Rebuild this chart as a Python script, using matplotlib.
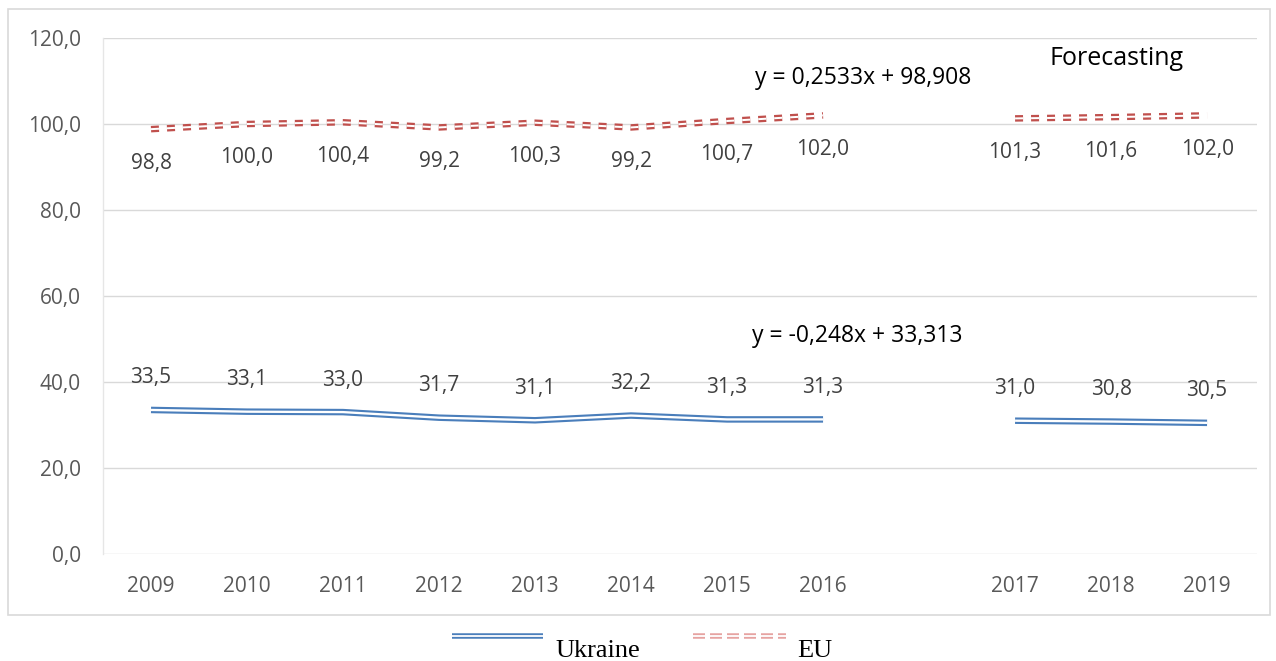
import matplotlib
matplotlib.use("Agg")
import matplotlib.pyplot as plt
from matplotlib.lines import Line2D
from matplotlib.patches import Rectangle

plt.rcParams['lines.scale_dashes'] = False
plt.rcParams['font.family'] = ['Open Sans', 'DejaVu Sans']

# ---- data ----
years_hist = [2009, 2010, 2011, 2012, 2013, 2014, 2015, 2016]
years_fc = [2017, 2018, 2019]
ukraine_hist = [33.5, 33.1, 33.0, 31.7, 31.1, 32.2, 31.3, 31.3]
eu_hist = [98.8, 100.0, 100.4, 99.2, 100.3, 99.2, 100.7, 102.0]
ukraine_fc = [31.0, 30.8, 30.5]
eu_fc = [101.3, 101.6, 102.0]
tick_labels = [str(y) for y in years_hist + years_fc]
eq_eu = "y = 0,2533x + 98,908"
eq_ua = "y = -0,248x + 33,313"
yticks = [0, 20, 40, 60, 80, 100, 120]

# category slots (index 8 is an empty slot between history and forecast)
x_hist = list(range(len(years_hist)))
x_fc = [9, 10, 11]
tick_pos = x_hist + x_fc

BLUE = '#4A7EBB'
RED = '#C0504D'
PINK = '#E6A3A1'
LBL = '#404040'
TCK = '#595959'
GRID = '#D9D9D9'
FS = 15

W, H = 1276, 661
fig = plt.figure(figsize=(W / 100, H / 100), dpi=100)
px = 72 / 100  # points per pixel

# outer chart frame
fig.patches.append(Rectangle((8 / W, 1 - 615 / H), (1270 - 8) / W, (615 - 9) / H,
                             transform=fig.transFigure, fill=False,
                             edgecolor='#D9D9D9', linewidth=1.2))

ax = fig.add_axes([103 / W, 1 - 554 / H, (1257 - 103) / W, (554 - 38) / H])
ax.set_xlim(-0.5, 11.52)
ax.set_ylim(0, 120)
for name, s in ax.spines.items():
    s.set_visible(name == 'left')
ax.spines['left'].set_color('#E6E6E6')
ax.spines['left'].set_linewidth(1.0)
ax.set_yticks(yticks)
ax.set_yticklabels([f"{v:.1f}".replace('.', ',') for v in yticks])
ax.grid(axis='y', color=GRID, linewidth=1.0)
ax.set_axisbelow(True)
ax.set_xticks(tick_pos)
ax.set_xticklabels(tick_labels)
ax.tick_params(axis='both', length=0, labelsize=FS, labelcolor=TCK)
ax.tick_params(axis='y', pad=16)
ax.tick_params(axis='x', pad=16)


def double_solid(x, y, color, outer, inner):
    ax.plot(x, y, color=color, lw=outer * px, solid_capstyle='butt', zorder=3)
    ax.plot(x, y, color='white', lw=inner * px, solid_capstyle='butt', zorder=4)


def double_dash(x, y, color, outer, inner):
    d = (8 * px, 8 * px)
    ax.plot(x, y, color=color, lw=outer * px, dashes=d, dash_capstyle='butt', zorder=3)
    ax.plot(x, y, color='white', lw=inner * px, dashes=d, dash_capstyle='butt', zorder=4)


for xs, ys in [(x_hist, ukraine_hist), (x_fc, ukraine_fc)]:
    double_solid(xs, ys, BLUE, 6.5, 2.3)
for xs, ys in [(x_hist, eu_hist), (x_fc, eu_fc)]:
    double_dash(xs, ys, RED, 6.5, 2.0)


def fmt(v):
    return f"{v:.1f}".replace('.', ',')


for xs, ys in [(x_hist, eu_hist), (x_fc, eu_fc)]:
    for xv, yv in zip(xs, ys):
        ax.annotate(fmt(yv), (xv, yv), xytext=(0, -34 * px), textcoords='offset points',
                    ha='center', va='center', fontsize=FS, color=LBL)
for xs, ys in [(x_hist, ukraine_hist), (x_fc, ukraine_fc)]:
    for xv, yv in zip(xs, ys):
        ax.annotate(fmt(yv), (xv, yv), xytext=(0, 32 * px), textcoords='offset points',
                    ha='center', va='center', fontsize=FS, color=LBL)

ax.text(6.29, 110.7, eq_eu, ha='left', va='center', fontsize=16.5, color='black')
ax.text(6.26, 50.7, eq_ua, ha='left', va='center', fontsize=16.5, color='black')
ax.text(9.36, 115.3, "Forecasting", ha='left', va='center', fontsize=18, color='black')

# legend (below the chart frame)
def fx(p):
    return p / W


def fy(p):
    return 1 - p / H


y_h = fy(636)
for (x0, x1), kind in [((452, 543), 'ua'), ((693, 786), 'eu')]:
    if kind == 'ua':
        fig.add_artist(Line2D([fx(x0), fx(x1)], [y_h, y_h], color=BLUE, lw=5.5 * px,
                              solid_capstyle='butt'))
        fig.add_artist(Line2D([fx(x0), fx(x1)], [y_h, y_h], color='white', lw=1.8 * px,
                              solid_capstyle='butt'))
    else:
        d = (12 * px, 5 * px)
        fig.add_artist(Line2D([fx(x0), fx(x1)], [y_h, y_h], color=PINK, lw=5.5 * px,
                              dashes=d, dash_capstyle='butt'))
        fig.add_artist(Line2D([fx(x0), fx(x1)], [y_h, y_h], color='white', lw=1.8 * px,
                              dashes=d, dash_capstyle='butt'))

fig.text(fx(555), fy(651), "Ukraine", ha='left', va='center', fontsize=19,
         family=['Liberation Serif'], color='black')
fig.text(fx(797), fy(651), "EU", ha='left', va='center', fontsize=19,
         family=['Liberation Serif'], color='black')

fig.savefig("out.png", dpi=100)
